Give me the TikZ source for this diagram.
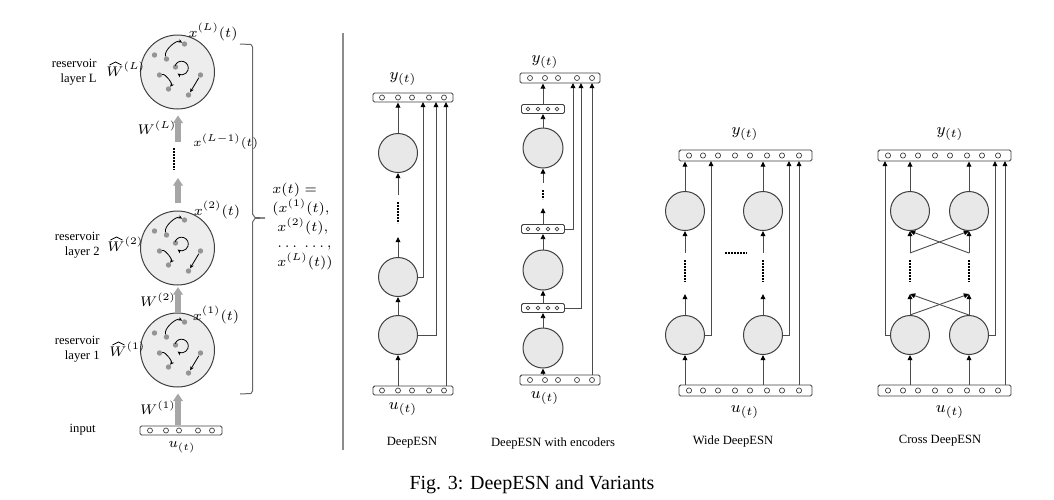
\documentclass[tikz,border=0pt]{standalone}
\usepackage{fontspec}
\setmainfont{Liberation Serif}
\usetikzlibrary{arrows.meta,calc}
\tikzset{
 lnx/.style={draw=black!70, line width=0.45pt},
 arr/.style={lnx, -{Triangle[length=2.6pt,width=2.4pt,color=black]}},
 smarr/.style={draw=black, line width=0.4pt, -{Stealth[length=2pt,width=1.8pt]}},
 resnode/.style={circle, draw=black!75, line width=0.5pt, fill=black!9, minimum size=19.5pt, inner sep=0pt},
 bigres/.style={circle, draw=black!75, line width=0.5pt, fill=black!7, minimum size=37pt, inner sep=0pt},
 vboxst/.style={rectangle, rounded corners=0.8pt, draw=black!75, line width=0.45pt, inner sep=0pt, fill=white},
 unitc/.style={draw=black!75, line width=0.35pt, fill=white},
 dotsv/.style={line width=1.3pt, dash pattern=on 0.8pt off 0.7pt},
 garr/.style={draw=black!35, line width=2.6pt, -{Triangle[length=3.8pt,width=4.8pt,color=black!35]}},
 mlab/.style={font=\fontsize{7}{8}\selectfont, inner sep=0pt},
 ylab/.style={font=\fontsize{8}{9}\selectfont, inner sep=0pt},
 subcap/.style={font=\fontsize{6.3}{7.5}\selectfont, inner sep=0pt},
 hatln/.style={draw=black, line width=0.35pt},
}
\newcommand\vbx[7]{%
 \node[vboxst, minimum width=#4*0.5pt, minimum height=#5*0.5pt] (#1) at (#2,#3) {};
 \foreach \u in {#6} \draw[unitc] (\u,#3) circle[radius=#7];
}
\newcommand\resv[3]{%
 \node[bigres] (#1) at (#2,#3) {};
 \begin{scope}[shift={(#2,#3)}]
  \foreach \px/\py [count=\i] in {-23/-17,-11/-13,7/-28,-2/-5,-18/3,-9/17,23/3,11/23}
    \coordinate (#1d\i) at (\px,\py);
  \foreach \i in {1,...,8} \fill[black!42] (#1d\i) circle[radius=1.35pt];
  \draw[smarr, shorten <=1.4pt, shorten >=1.4pt] (#1d2) to[bend left=70] (#1d3);
  \draw[smarr, shorten <=1.4pt, shorten >=1.4pt] (#1d5) to[bend left=70] (#1d6);
  \draw[smarr, shorten <=1.6pt, shorten >=1.6pt] (#1d7) -- (#1d8);
  \draw[smarr] ([shift={(160:3.4pt)}]4,-4) arc[start angle=160, end angle=-125, radius=3.4pt];
 \end{scope}}
% W with a drawn hat: name, x (base west), y (baseline), superscript
\newcommand\hatW[4]{%
 \node[mlab, anchor=base west] (#1) at (#2,#3) {$W^{(#4)}$};
 \draw[hatln] ($(#1.base west)+(3.5,-11)$) -- ($(#1.base west)+(9.5,-14)$) -- ($(#1.base west)+(15.5,-11)$);
}
\begin{document}
\begin{tikzpicture}[x=0.5pt,y=-0.5pt]
\useasboundingbox (0,0) rectangle (1054,499);

% ---------------- left panel ----------------
\resv{RL}{177.5}{72}
\resv{R2}{177.5}{248}
\resv{R1}{177.5}{350}
\vbx{inp}{181}{430.5}{82}{9}{150,166,179,198,212}{1.25pt}

\coordinate (g1) at (178,425);
\coordinate (g2) at (178,203);
\coordinate (g3) at (178,142);
\draw[garr, shorten >=3pt] (g1) -- (R1.south -| g1);
\draw[garr, shorten >=0.8pt] (R1.north -| g1) -- (R2.south -| g1);
\draw[garr] (g2) -- ++(0,-25);
\draw[garr, shorten >=3pt] (g3) -- (RL.south -| g3);
\coordinate (gd1) at (174,148); \coordinate (gd2) at (174,170);
\draw[dotsv] (gd1) -- (gd2);

\node[mlab] (xL) at (213,32) {$x^{(L)}(t)$};
\node[mlab] (x2) at (217,210) {$x^{(2)}(t)$};
\node[mlab] (x1) at (216,315) {$x^{(1)}(t)$};
\node[mlab, font=\fontsize{6.3}{7}\selectfont, anchor=west] (xLm) at (193,142) {$x^{(L{-}1)}(t)$};
\node[mlab] (WL) at (157,128) {$W^{(L)}$};
\node[mlab] (W2) at (158,300) {$W^{(2)}$};
\node[mlab] (W1) at (158,408) {$W^{(1)}$};
\hatW{hWL}{106}{76}{L}
\hatW{hW2}{107}{251}{2}
\hatW{hW1}{109}{356}{1}
\node[mlab] (ul) at (182,447) {$u_{(t)}$};

\node[subcap, anchor=east, align=right] (lL) at (97,72) {reservoir\\layer L};
\node[subcap, anchor=east, align=right] (l2) at (100,245) {reservoir\\layer 2};
\node[subcap, anchor=east, align=right] (l1) at (100,349) {reservoir\\layer 1};
\node[subcap, anchor=east] (lin) at (96,430) {input};

% brace
\coordinate (b1) at (240,44);
\coordinate (b2) at (240,394);
\coordinate (bt) at (265,218);
\draw[draw=black!60, line width=0.5pt] (b1) -- (251,44.5) -- (252.5,47) -- (252.5,214) -- (255,217.5) -- (bt);
\draw[draw=black!60, line width=0.5pt] (bt) -- (255,218.5) -- (252.5,222) -- (252.5,391) -- (251,393.5) -- (b2);

\node[mlab, anchor=north west, align=left] (xt) at (272,183)
 {$x(t)=$\\$(x^{(1)}(t),$\\\hspace*{2.5pt}$x^{(2)}(t),$\\\hspace*{2.5pt}$\ldots\;\ldots,$\\\hspace*{2.5pt}$x^{(L)}(t))$};

% separator
\coordinate (s1) at (343,33); \coordinate (s2) at (343,450);
\draw[draw=black!45, line width=0.6pt] (s1) -- (s2);

% ---------------- DeepESN ----------------
\vbx{Atop}{413}{97.5}{80}{9}{382,398,412,429,444}{1.25pt}
\vbx{Abot}{413}{390.5}{80}{9}{382,398,412,429,444}{1.25pt}
\node[resnode] (A1) at (398,335) {};
\node[resnode] (A2) at (398,277) {};
\node[resnode] (A3) at (398,153) {};
\coordinate (Aup) at (398,237);
\coordinate (Alo) at (398,195);
\coordinate (Ad1) at (398,202); \coordinate (Ad2) at (398,223);
\coordinate (Ax1) at (423,102); \coordinate (Ax2) at (436,102); \coordinate (Ax3) at (446,102);
\draw[arr] (A1 |- Abot.north) -- (A1);
\draw[arr] (A1) -- (A2);
\draw[arr] (A2) -- (Aup);
\draw[dotsv] (Ad1) -- (Ad2);
\draw[arr] (Alo) -- (A3);
\draw[arr] (A3) -- (A3 |- Atop.south);
\draw[arr] (A2.east) -| (Ax1);
\draw[arr] (A1.east) -| (Ax2);
\draw[arr] (Abot.north -| Ax3) -- (Ax3);
\node[ylab] (Ay) at (403,79) {$y_{(t)}$};
\node[ylab] (Au) at (403,409) {$u_{(t)}$};
\node[subcap] (Acap) at (412,443) {DeepESN};

% ---------------- DeepESN with encoders ----------------
\vbx{Btop}{560}{78}{80}{10}{530,545,558,577,592}{1.25pt}
\vbx{Bbot}{560}{380}{80}{10}{530,545,558,577,592}{1.25pt}
\vbx{E1}{543}{308}{43}{9}{528,538,548,557}{0.9pt}
\vbx{E2}{543}{229}{43}{9}{528,538,548,557}{0.9pt}
\vbx{E3}{543}{109}{43}{9}{528,538,548,557}{0.9pt}
\node[resnode, minimum size=20pt] (B1) at (543,348) {};
\node[resnode, minimum size=20pt] (B2) at (543,270) {};
\node[resnode, minimum size=20pt] (B3) at (543,148) {};
\coordinate (Bup) at (543,208);
\coordinate (Blo) at (543,183);
\coordinate (Bd1) at (543,190); \coordinate (Bd2) at (543,199);
\coordinate (Bx1) at (573,83); \coordinate (Bx2) at (581,83); \coordinate (Bx3) at (592,83);
\draw[arr] (B1 |- Bbot.north) -- (B1);
\draw[arr] (B1) -- (E1);
\draw[arr] (E1) -- (B2);
\draw[arr] (B2) -- (E2);
\draw[arr] (E2) -- (Bup);
\draw[dotsv] (Bd1) -- (Bd2);
\draw[arr] (Blo) -- (B3);
\draw[arr] (B3) -- (E3);
\draw[arr] (E3.north) -- (E3.north |- Btop.south);
\draw[arr] (E2.east) -| (Bx1);
\draw[arr] (E1.east) -| (Bx2);
\draw[arr] (Bbot.north -| Bx3) -- (Bx3);
\node[ylab] (By) at (545,62) {$y_{(t)}$};
\node[ylab] (Bu) at (545,398) {$u_{(t)}$};
\node[subcap] (Bcap) at (553,443) {DeepESN with encoders};

% ---------------- Wide DeepESN ----------------
\vbx{Ctop}{745.5}{155.5}{133}{11}{689,703,718,735,750,767,782,799}{1.3pt}
\vbx{Cbot}{745.5}{390.5}{133}{11}{689,703,718,735,750,767,782,799}{1.3pt}
\node[resnode] (C1) at (685,335) {};
\node[resnode] (C2) at (685,211) {};
\node[resnode] (C3) at (763,335) {};
\node[resnode] (C4) at (763,211) {};
\coordinate (Cu1) at (685,294); \coordinate (Cu2) at (763,294);
\coordinate (Cl1) at (685,253); \coordinate (Cl2) at (763,253);
\draw[arr] (C1 |- Cbot.north) -- (C1);
\draw[arr] (C3 |- Cbot.north) -- (C3);
\draw[arr] (C1) -- (Cu1);
\draw[arr] (C3) -- (Cu2);
\draw[dotsv] (685,260) -- (685,282);
\draw[dotsv] (763,260) -- (763,282);
\draw[arr] (Cl1) -- (C2);
\draw[arr] (Cl2) -- (C4);
\draw[arr] (C2) -- (C2 |- Ctop.south);
\draw[arr] (C4) -- (C4 |- Ctop.south);
\draw[dotsv] (725,253) -- (747,253);
\coordinate (Cx1) at (711,161); \coordinate (Cx2) at (789,161); \coordinate (Cx3) at (799,161);
\draw[arr] (C1.east) -| (Cx1);
\draw[arr] (C3.east) -| (Cx2);
\draw[arr] (Cbot.north -| Cx3) -- (Cx3);
\node[ylab] (Cy) at (745,134) {$y_{(t)}$};
\node[ylab] (Cu) at (745,412) {$u_{(t)}$};
\node[subcap] (Ccap) at (733,441) {Wide DeepESN};

% ---------------- Cross DeepESN ----------------
\vbx{Dtop}{944.5}{155.5}{133}{11}{888,903,918,935,950,967,982,998}{1.3pt}
\vbx{Dbot}{944.5}{390.5}{133}{11}{888,903,918,935,950,967,982,998}{1.3pt}
\node[resnode] (D1) at (910,335) {};
\node[resnode] (D2) at (910,211) {};
\node[resnode] (D3) at (969,335) {};
\node[resnode] (D4) at (969,211) {};
\coordinate (Da) at (910,294); \coordinate (Db) at (969,294);
\coordinate (Dc) at (910,253); \coordinate (Dd) at (969,253);
\draw[arr] (D1 |- Dbot.north) -- (D1);
\draw[arr] (D3 |- Dbot.north) -- (D3);
\draw[arr] (D1) -- (Da);
\draw[arr] (D3) -- (Db);
\draw[arr] (D1.north) -- (Db);
\draw[arr] (D3.north) -- (Da);
\draw[dotsv] (910,260) -- (910,282);
\draw[dotsv] (969,260) -- (969,282);
\draw[arr] (Dc) -- (D2.south);
\draw[arr] (Dd) -- (D4.south);
\draw[arr] (Dc) -- (D4.south);
\draw[arr] (Dd) -- (D2.south);
\draw[arr] (D2) -- (D2 |- Dtop.south);
\draw[arr] (D4) -- (D4 |- Dtop.south);
\coordinate (Dx1) at (885,161); \coordinate (Dx2) at (995,161); \coordinate (Dx3) at (1005,161);
\draw[arr] (D1.west) -| (Dx1);
\draw[arr] (D3.east) -| (Dx2);
\draw[arr] (Dbot.north -| Dx3) -- (Dx3);
\node[ylab] (Dy) at (950,134) {$y_{(t)}$};
\node[ylab] (Du) at (950,412) {$u_{(t)}$};
\node[subcap] (Dcap) at (940,441) {Cross DeepESN};

% caption
\node[font=\fontsize{10}{12}\selectfont, inner sep=0pt] (fig) at (532,485) {Fig. 3: DeepESN and Variants};
\end{tikzpicture}
\end{document}
